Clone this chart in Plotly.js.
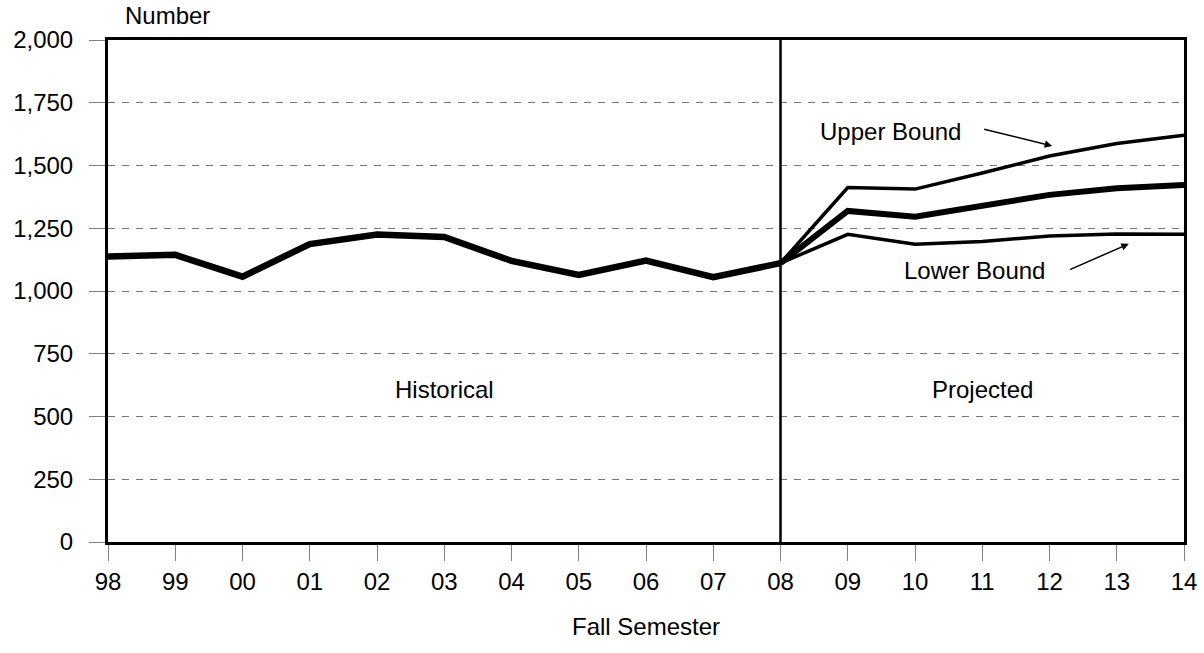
<!DOCTYPE html>
<html>
<head>
<meta charset="utf-8">
<script src="https://cdn.plot.ly/plotly-3.0.1.min.js"></script>
<style>html,body{margin:0;padding:0;background:#fff;}#chart{width:1204px;height:653px;}</style>
</head>
<body>
<div id="chart"></div>
<script>
var years = ["98","99","00","01","02","03","04","05","06","07","08","09","10","11","12","13","14"];
var historical = [1137,1144,1057,1187,1225,1215,1120,1064,1121,1055,1111];
var projected = [1111,1319,1296,1340,1383,1409,1422];
var upperBound = [1111,1412,1406,1470,1538,1588,1621];
var lowerBound = [1111,1226,1186,1197,1219,1227,1226];

var idx = years.map(function(_, i){ return i; });
var histX = idx.slice(0, historical.length);
var projX = idx.slice(historical.length - 1);

var font = "Liberation Sans, Arial, sans-serif";
var fs = 24;

var traces = [
  {x: histX, y: historical, mode: "lines", line: {color: "#000", width: 6.5}, hoverinfo: "skip"},
  {x: projX, y: upperBound, mode: "lines", line: {color: "#000", width: 3.5}, hoverinfo: "skip"},
  {x: projX, y: lowerBound, mode: "lines", line: {color: "#000", width: 3.5}, hoverinfo: "skip"},
  {x: projX, y: projected, mode: "lines", line: {color: "#000", width: 6}, hoverinfo: "skip"}
];

var layout = {
  width: 1204, height: 653,
  margin: {l: 108, r: 20, t: 40, b: 111},
  paper_bgcolor: "#fff", plot_bgcolor: "#fff",
  showlegend: false,
  font: {family: font, size: fs, color: "#000"},
  xaxis: {
    range: [0, years.length - 1],
    tickvals: idx, ticktext: years,
    ticks: "outside", ticklen: 16, tickcolor: "#808080", tickwidth: 1,
    showgrid: false, zeroline: false,
    showline: true, linecolor: "#000", linewidth: 3, mirror: true,
    tickfont: {family: font, size: fs, color: "#000"},
    title: {text: "Fall Semester", font: {family: font, size: fs, color: "#000"}, standoff: 25}
  },
  yaxis: {
    range: [0, 2000], dtick: 250, tick0: 0, tickformat: ",",
    ticks: "outside", ticklen: 16, tickcolor: "#808080", tickwidth: 1,
    ticklabelstandoff: 11,
    showgrid: true, gridcolor: "#777777", gridwidth: 1, griddash: "7px,7px",
    zeroline: false,
    showline: true, linecolor: "#000", linewidth: 3, mirror: true,
    tickfont: {family: font, size: fs, color: "#000"}
  },
  shapes: [
    {type: "line", xref: "x", yref: "paper", x0: historical.length - 1, x1: historical.length - 1, y0: 0, y1: 1, line: {color: "#000", width: 2.5}}
  ],
  annotations: [
    {xref: "paper", yref: "paper", x: 0, y: 1, xanchor: "left", yanchor: "bottom", xshift: 15, yshift: 9, text: "Number", showarrow: false, font: {family: font, size: fs}},
    {xref: "x", yref: "y", x: 5, y: 606, text: "Historical", showarrow: false, font: {family: font, size: fs}},
    {xref: "x", yref: "y", x: 13, y: 606, text: "Projected", showarrow: false, font: {family: font, size: fs}},
    {xref: "x", yref: "y", x: 11.64, y: 1637, text: "Upper Bound", showarrow: false, font: {family: font, size: fs}},
    {xref: "x", yref: "y", x: 12.89, y: 1080, text: "Lower Bound", showarrow: false, font: {family: font, size: fs}},
    {xref: "x", yref: "y", x: 14.04, y: 1578, text: " ", showarrow: true, ax: -73, ay: -18, arrowhead: 2, arrowsize: 1, arrowwidth: 1.5, arrowcolor: "#000", standoff: 0, startstandoff: 0},
    {xref: "x", yref: "y", x: 15.18, y: 1188, text: " ", showarrow: true, ax: -64, ay: 28, arrowhead: 2, arrowsize: 1, arrowwidth: 1.5, arrowcolor: "#000", standoff: 0, startstandoff: 0}
  ]
};

Plotly.newPlot("chart", traces, layout, {displayModeBar: false, staticPlot: true});
</script>
</body>
</html>
